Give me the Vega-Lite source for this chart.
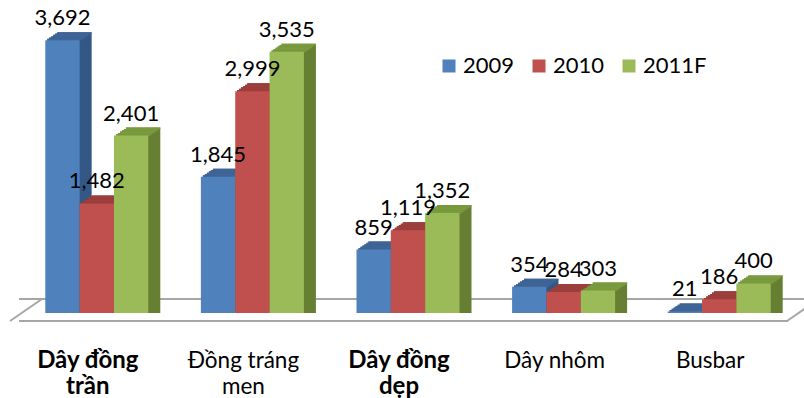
{
  "$schema": "https://vega.github.io/schema/vega-lite/v6.json",
  "width": 778,
  "height": 313,
  "autosize": {"type": "none"},
  "padding": {"left": 19, "top": 0, "right": 7, "bottom": 85},
  "background": "white",
  "config": {"view": {"stroke": null}, "font": "Lato"},
  "data": {
    "values": [
      {"cat": "Dây đồng trần", "year": "2009", "value": 3692},
      {"cat": "Dây đồng trần", "year": "2010", "value": 1482},
      {"cat": "Dây đồng trần", "year": "2011F", "value": 2401},
      {"cat": "Đồng tráng men", "year": "2009", "value": 1845},
      {"cat": "Đồng tráng men", "year": "2010", "value": 2999},
      {"cat": "Đồng tráng men", "year": "2011F", "value": 3535},
      {"cat": "Dây đồng dẹp", "year": "2009", "value": 859},
      {"cat": "Dây đồng dẹp", "year": "2010", "value": 1119},
      {"cat": "Dây đồng dẹp", "year": "2011F", "value": 1352},
      {"cat": "Dây nhôm", "year": "2009", "value": 354},
      {"cat": "Dây nhôm", "year": "2010", "value": 284},
      {"cat": "Dây nhôm", "year": "2011F", "value": 303},
      {"cat": "Busbar", "year": "2009", "value": 21},
      {"cat": "Busbar", "year": "2010", "value": 186},
      {"cat": "Busbar", "year": "2011F", "value": 400}
    ]
  },
  "encoding": {
    "y": {"field": "value", "type": "quantitative", "stack": null, "scale": {"domain": [0, 4235], "nice": false, "zero": true}, "axis": null}
  },
  "layer": [
    {
      "transform": [{"filter": "datum.cat == 'Busbar' && datum.year == '2009'"}],
      "mark": {"type": "rule", "color": "#a6a6a6", "strokeWidth": 2, "yOffset": -14, "xOffset": 23, "x2Offset": 30},
      "encoding": {"y": {"datum": 0, "axis": null}}
    },
    {
      "transform": [{"filter": "datum.cat == 'Busbar' && datum.year == '2009'"}],
      "mark": {"type": "rule", "color": "#a6a6a6", "strokeWidth": 2, "yOffset": 8, "xOffset": -9, "x2Offset": -9},
      "encoding": {"y": {"datum": 0, "axis": null}}
    },
    {
      "encoding": {
        "x": {
          "field": "cat", "type": "nominal", "sort": null,
          "scale": {"domain": ["Dây đồng trần", "Đồng tráng men", "Dây đồng dẹp", "Dây nhôm", "Busbar"], "paddingInner": 0.3376, "paddingOuter": 0.1688},
          "axis": {
            "title": null, "domain": false, "ticks": false, "tickSize": 0, "grid": false,
            "labelAngle": 0, "labelPadding": 54, "labelBaseline": "alphabetic",
            "labelFont": "Lato", "labelColor": "#000000", "labelLineHeight": 26, "labelOffset": -9, "labelLimit": 0,
            "labelFontSize": {"condition": {"test": "datum.value == 'Dây đồng trần' || datum.value == 'Dây đồng dẹp'", "value": 24}, "value": 22.5},
            "labelFontWeight": {"condition": {"test": "datum.value == 'Dây đồng trần' || datum.value == 'Dây đồng dẹp'", "value": "bold"}, "value": "normal"},
            "labelExpr": "datum.value == 'Dây đồng trần' ? ['Dây đồng', 'trần'] : datum.value == 'Đồng tráng men' ? ['Đồng tráng', 'men'] : datum.value == 'Dây đồng dẹp' ? ['Dây đồng', 'dẹp'] : datum.value"
          }
        }
      },
      "layer": [
        {
          "transform": [{"filter": "datum.year == '2009'"}],
          "layer": [
            {"mark": {"type": "bar", "width": {"band": 0.3333}, "color": "#345885", "xOffset": -22.33, "x2Offset": -22.33, "yOffset": -8, "y2Offset": -8}},
            {"mark": {"type": "bar", "width": {"band": 0.3333}, "color": "#345885", "xOffset": -24.33, "x2Offset": -24.33, "yOffset": -6.667, "y2Offset": -6.667}},
            {"mark": {"type": "bar", "width": {"band": 0.3333}, "color": "#345885", "xOffset": -26.33, "x2Offset": -26.33, "yOffset": -5.333, "y2Offset": -5.333}},
            {"mark": {"type": "bar", "width": {"band": 0.3333}, "color": "#345885", "xOffset": -28.33, "x2Offset": -28.33, "yOffset": -4, "y2Offset": -4}},
            {"mark": {"type": "bar", "width": {"band": 0.3333}, "color": "#345885", "xOffset": -30.33, "x2Offset": -30.33, "yOffset": -2.667, "y2Offset": -2.667}},
            {"mark": {"type": "bar", "width": {"band": 0.3333}, "color": "#345885", "xOffset": -32.33, "x2Offset": -32.33, "yOffset": -1.333, "y2Offset": -1.333}},
            {"mark": {"type": "bar", "width": {"band": 0.3333}, "color": "#3f6597", "xOffset": -22.33, "x2Offset": -22.33, "yOffset": -8, "y2Offset": -6.267}, "encoding": {"y2": {"field": "value"}}},
            {"mark": {"type": "bar", "width": {"band": 0.3333}, "color": "#3f6597", "xOffset": -24.33, "x2Offset": -24.33, "yOffset": -6.667, "y2Offset": -4.933}, "encoding": {"y2": {"field": "value"}}},
            {"mark": {"type": "bar", "width": {"band": 0.3333}, "color": "#3f6597", "xOffset": -26.33, "x2Offset": -26.33, "yOffset": -5.333, "y2Offset": -3.6}, "encoding": {"y2": {"field": "value"}}},
            {"mark": {"type": "bar", "width": {"band": 0.3333}, "color": "#3f6597", "xOffset": -28.33, "x2Offset": -28.33, "yOffset": -4, "y2Offset": -2.267}, "encoding": {"y2": {"field": "value"}}},
            {"mark": {"type": "bar", "width": {"band": 0.3333}, "color": "#3f6597", "xOffset": -30.33, "x2Offset": -30.33, "yOffset": -2.667, "y2Offset": -0.933}, "encoding": {"y2": {"field": "value"}}},
            {"mark": {"type": "bar", "width": {"band": 0.3333}, "color": "#3f6597", "xOffset": -32.33, "x2Offset": -32.33, "yOffset": -1.333, "y2Offset": 0.4}, "encoding": {"y2": {"field": "value"}}},
            {
              "mark": {"type": "bar", "width": {"band": 0.3333}, "xOffset": -34.33, "x2Offset": -34.33},
              "encoding": {
                "color": {
                  "field": "year", "type": "nominal",
                  "scale": {"domain": ["2009", "2010", "2011F"], "range": ["#4f81bd", "#c0504d", "#9bbb59"]},
                  "legend": {"orient": "none", "legendX": 419, "legendY": 55, "direction": "horizontal", "title": null, "symbolType": "square", "symbolSize": 169, "symbolStrokeWidth": 0, "labelFont": "Lato", "labelFontSize": 22, "labelOffset": 3, "columnPadding": 13, "labelColor": "#000000"}
                }
              }
            }
          ]
        },
        {
          "transform": [{"filter": "datum.year == '2010'"}],
          "layer": [
            {"mark": {"type": "bar", "width": {"band": 0.3333}, "color": "#8c3532", "xOffset": 12, "x2Offset": 12, "yOffset": -8, "y2Offset": -8}},
            {"mark": {"type": "bar", "width": {"band": 0.3333}, "color": "#8c3532", "xOffset": 10, "x2Offset": 10, "yOffset": -6.667, "y2Offset": -6.667}},
            {"mark": {"type": "bar", "width": {"band": 0.3333}, "color": "#8c3532", "xOffset": 8, "x2Offset": 8, "yOffset": -5.333, "y2Offset": -5.333}},
            {"mark": {"type": "bar", "width": {"band": 0.3333}, "color": "#8c3532", "xOffset": 6, "x2Offset": 6, "yOffset": -4, "y2Offset": -4}},
            {"mark": {"type": "bar", "width": {"band": 0.3333}, "color": "#8c3532", "xOffset": 4, "x2Offset": 4, "yOffset": -2.667, "y2Offset": -2.667}},
            {"mark": {"type": "bar", "width": {"band": 0.3333}, "color": "#8c3532", "xOffset": 2, "x2Offset": 2, "yOffset": -1.333, "y2Offset": -1.333}},
            {"mark": {"type": "bar", "width": {"band": 0.3333}, "color": "#9c3f3c", "xOffset": 12, "x2Offset": 12, "yOffset": -8, "y2Offset": -6.267}, "encoding": {"y2": {"field": "value"}}},
            {"mark": {"type": "bar", "width": {"band": 0.3333}, "color": "#9c3f3c", "xOffset": 10, "x2Offset": 10, "yOffset": -6.667, "y2Offset": -4.933}, "encoding": {"y2": {"field": "value"}}},
            {"mark": {"type": "bar", "width": {"band": 0.3333}, "color": "#9c3f3c", "xOffset": 8, "x2Offset": 8, "yOffset": -5.333, "y2Offset": -3.6}, "encoding": {"y2": {"field": "value"}}},
            {"mark": {"type": "bar", "width": {"band": 0.3333}, "color": "#9c3f3c", "xOffset": 6, "x2Offset": 6, "yOffset": -4, "y2Offset": -2.267}, "encoding": {"y2": {"field": "value"}}},
            {"mark": {"type": "bar", "width": {"band": 0.3333}, "color": "#9c3f3c", "xOffset": 4, "x2Offset": 4, "yOffset": -2.667, "y2Offset": -0.933}, "encoding": {"y2": {"field": "value"}}},
            {"mark": {"type": "bar", "width": {"band": 0.3333}, "color": "#9c3f3c", "xOffset": 2, "x2Offset": 2, "yOffset": -1.333, "y2Offset": 0.4}, "encoding": {"y2": {"field": "value"}}},
            {
              "mark": {"type": "bar", "width": {"band": 0.3333}, "xOffset": 0, "x2Offset": 0},
              "encoding": {
                "color": {"field": "year", "type": "nominal", "scale": {"domain": ["2009", "2010", "2011F"], "range": ["#4f81bd", "#c0504d", "#9bbb59"]}}
              }
            }
          ]
        },
        {
          "transform": [{"filter": "datum.year == '2011F'"}],
          "layer": [
            {"mark": {"type": "bar", "width": {"band": 0.3333}, "color": "#667f33", "xOffset": 46.33, "x2Offset": 46.33, "yOffset": -8, "y2Offset": -8}},
            {"mark": {"type": "bar", "width": {"band": 0.3333}, "color": "#667f33", "xOffset": 44.33, "x2Offset": 44.33, "yOffset": -6.667, "y2Offset": -6.667}},
            {"mark": {"type": "bar", "width": {"band": 0.3333}, "color": "#667f33", "xOffset": 42.33, "x2Offset": 42.33, "yOffset": -5.333, "y2Offset": -5.333}},
            {"mark": {"type": "bar", "width": {"band": 0.3333}, "color": "#667f33", "xOffset": 40.33, "x2Offset": 40.33, "yOffset": -4, "y2Offset": -4}},
            {"mark": {"type": "bar", "width": {"band": 0.3333}, "color": "#667f33", "xOffset": 38.33, "x2Offset": 38.33, "yOffset": -2.667, "y2Offset": -2.667}},
            {"mark": {"type": "bar", "width": {"band": 0.3333}, "color": "#667f33", "xOffset": 36.33, "x2Offset": 36.33, "yOffset": -1.333, "y2Offset": -1.333}},
            {"mark": {"type": "bar", "width": {"band": 0.3333}, "color": "#7a9a3e", "xOffset": 46.33, "x2Offset": 46.33, "yOffset": -8, "y2Offset": -6.267}, "encoding": {"y2": {"field": "value"}}},
            {"mark": {"type": "bar", "width": {"band": 0.3333}, "color": "#7a9a3e", "xOffset": 44.33, "x2Offset": 44.33, "yOffset": -6.667, "y2Offset": -4.933}, "encoding": {"y2": {"field": "value"}}},
            {"mark": {"type": "bar", "width": {"band": 0.3333}, "color": "#7a9a3e", "xOffset": 42.33, "x2Offset": 42.33, "yOffset": -5.333, "y2Offset": -3.6}, "encoding": {"y2": {"field": "value"}}},
            {"mark": {"type": "bar", "width": {"band": 0.3333}, "color": "#7a9a3e", "xOffset": 40.33, "x2Offset": 40.33, "yOffset": -4, "y2Offset": -2.267}, "encoding": {"y2": {"field": "value"}}},
            {"mark": {"type": "bar", "width": {"band": 0.3333}, "color": "#7a9a3e", "xOffset": 38.33, "x2Offset": 38.33, "yOffset": -2.667, "y2Offset": -0.933}, "encoding": {"y2": {"field": "value"}}},
            {"mark": {"type": "bar", "width": {"band": 0.3333}, "color": "#7a9a3e", "xOffset": 36.33, "x2Offset": 36.33, "yOffset": -1.333, "y2Offset": 0.4}, "encoding": {"y2": {"field": "value"}}},
            {
              "mark": {"type": "bar", "width": {"band": 0.3333}, "xOffset": 34.33, "x2Offset": 34.33},
              "encoding": {
                "color": {"field": "year", "type": "nominal", "scale": {"domain": ["2009", "2010", "2011F"], "range": ["#4f81bd", "#c0504d", "#9bbb59"]}}
              }
            }
          ]
        },
        {
          "transform": [{"filter": "datum.year == '2009'"}],
          "mark": {"type": "text", "xOffset": -34.33, "dy": -15, "baseline": "alphabetic", "align": "center", "font": "Lato", "fontSize": 22, "color": "#000000"},
          "encoding": {"text": {"field": "value", "type": "quantitative", "format": ","}}
        },
        {
          "transform": [{"filter": "datum.year == '2010'"}],
          "mark": {"type": "text", "xOffset": 0, "dy": -15, "baseline": "alphabetic", "align": "center", "font": "Lato", "fontSize": 22, "color": "#000000"},
          "encoding": {"text": {"field": "value", "type": "quantitative", "format": ","}}
        },
        {
          "transform": [{"filter": "datum.year == '2011F'"}],
          "mark": {"type": "text", "xOffset": 34.33, "dy": -15, "baseline": "alphabetic", "align": "center", "font": "Lato", "fontSize": 22, "color": "#000000"},
          "encoding": {"text": {"field": "value", "type": "quantitative", "format": ","}}
        },
        {
          "transform": [{"filter": "datum.cat == 'Dây đồng trần' && datum.year == '2009'"}],
          "mark": {"type": "rule", "color": "#a6a6a6", "strokeWidth": 2, "xOffset": -86.8, "x2Offset": -54.8, "yOffset": 8, "y2Offset": -14},
          "encoding": {"x2": {"field": "cat"}, "y": {"datum": 0, "axis": null}, "y2": {"datum": 0}}
        },
        {
          "transform": [{"filter": "datum.cat == 'Busbar' && datum.year == '2009'"}],
          "mark": {"type": "rule", "color": "#a6a6a6", "strokeWidth": 2, "xOffset": 67.8, "x2Offset": 99.8, "yOffset": 8, "y2Offset": -14},
          "encoding": {"x2": {"field": "cat"}, "y": {"datum": 0, "axis": null}, "y2": {"datum": 0}}
        }
      ]
    }
  ]
}
